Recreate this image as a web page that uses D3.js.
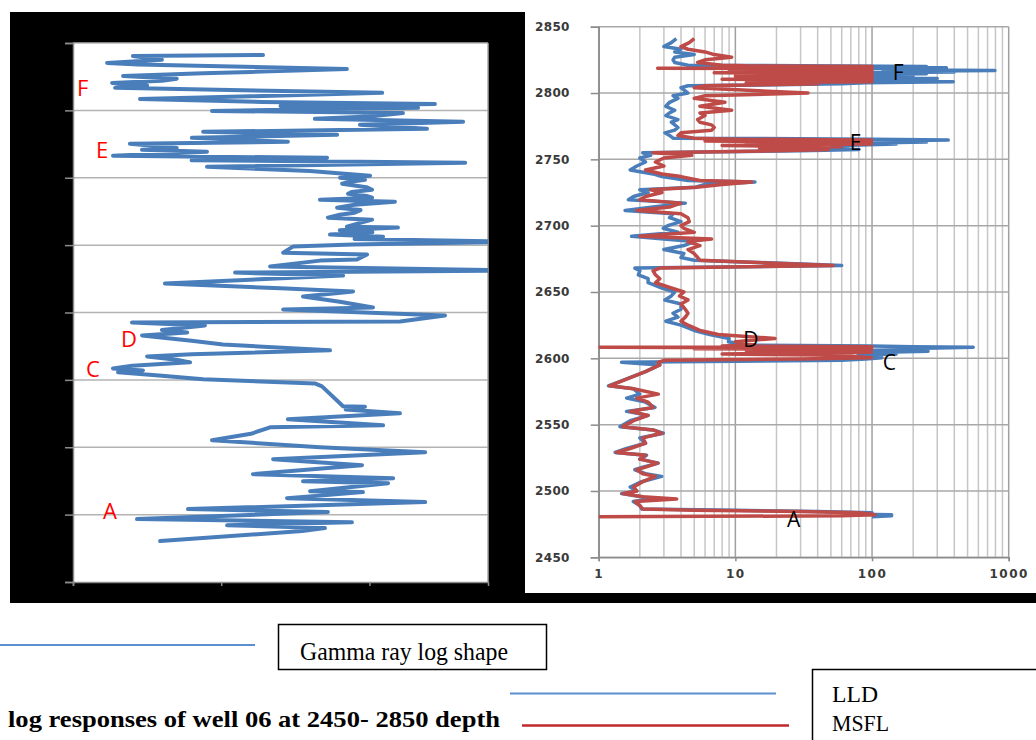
<!DOCTYPE html>
<html><head><meta charset="utf-8">
<script src="https://cdn.jsdelivr.net/npm/d3@7"></script>
<style>html,body{margin:0;padding:0;background:#fff;}svg{display:block;}</style>
</head><body>
<svg id="c" width="1036" height="740"></svg>
<script>
// ---------- DATA ----------
const depthTicks = [2450,2500,2550,2600,2650,2700,2750,2800,2850];
const resTicks = [1,10,100,1000];
const grTicks = [0,50,100];

const grDepth = [2841.1,2840.4,2837.5,2835.2,2834,2830.7,2828.5,2827.5,2825.6,2823.5,2821.9,2820.4,2818.5,2816.7,2813.0,2810.5,2808.5,2806.3,2804.8,2803.3,2801.9,2799.6,2798.1,2795.5,2793.7,2791.5,2789.3,2786.3,2784.1,2781.9,2779.6,2776.7,2775.2,2772,2770.7,2769.3,2766.3,2764.8,2763,2761.1,2758.1,2755,2751.5,
2750.0,2748.5,2746.8,2745.6,2743,2741.1,2739.5,2738.1,2736.5,2735.2,2733.7,2732.2,2730,2727.8,2726,2724,2722.5,2720.4,2718.9,2716,2713.7,2713.0,2711,2709.5,2707.8,2706.3,2704.5,2702.6,2700.4,2698.9,2694.4,2693.0,2689.3,2688.5,2684.1,2681.1,2679.6,2677.4,2671.5,2668,2665.6,2661.9,2658,2653.7,2652.2,
2647.8,2643.3,2642.6,2640.4,2637,2635.2,2633.0,2629,2626.3,2621.9,2619,2617.4,2615,2613.0,2610.5,2608.5,2607.0,2605.6,2603,2600.4,2597.4,2595.2,2580.4,2580.0,2578,2575.2,2570.7,2566.3,2564.8,2560,2555.2,2550.0,
2546.3,2541.1,2536.7,2530.0,2527.0,2524.8,2523.3,2517.4,2516.7,2512.2,2509.3,2504.1,2501.9,2496.7,2494.4,2492.2,2490,2487.8,2480.4];
const grValue = [64.1,20.2,30,11.5,22,92.4,60,43.9,16.9,35,30.0,13.2,25,14.2,104.3,60,22.6,63.8,122.1,70,116.4,46.9,111.3,100,81.6,131.6,96.8,119.4,43.9,89.1,40.1,72.5,19.2,35,23.3,45.2,13.5,85.7,40,132.3,45.2,80,100.2,
90.1,98.5,93,90.8,99,100.9,94,92.8,99,100.9,83.3,108.6,95,89.1,97,95,90,86.0,100.9,96,92.4,109.6,90,101,86.7,104.6,95,150,94.5,74.2,70.9,99.2,95.8,83.3,66.5,150,54.7,91.1,31.0,70,94.5,77.6,90,101.2,70.9,
125.5,110.3,19.9,44.5,30,38.5,23.3,40,50.6,86.7,40,25.0,35,39.5,20,13.5,23.6,15.2,30,43.9,81.6,84.0,91.1,98.5,92,110.3,72.5,104.6,66.5,60,46.9,83.3,
118.8,67.5,97.5,60.7,108.0,77.6,106.3,80.0,97.8,72.2,118.8,38.8,86.0,21.6,94.1,52.0,85,77.3,29.4];

const resDepth = [2841,2838,2835,2833,2831,2829,2827,2825,2823,2821,
2820.5,2820,2819.5,2819,2818.6,2818.2,2817.6,2817,2816.4,2815.8,2815.2,2814.6,2814,2813.4,2812.8,2812.2,2811.6,2811,2810.4,2809.8,2809.2,2808.5,2807.8,2807,2806.2,2805.5,
2804,2800,2798,2796,2793,2790,2787,2785,2783,2780,2778,2776,2774,2772,2770,2768,2766,
2765.2,2764.5,2763.8,2763,2762.2,2761.5,2760.5,2759.5,2758.5,2757.5,2756.5,
2755,2753,2751,2748,2745,2742,2739,2737,2734,2733,2731,2729,2727,2725,2722,2719.5,2717,2714,2711.5,2709,2706,2703,2700,2698,2695,2692,2690,2688,2685,2682,2679,2676,2674,2670,2668,2666,2663,2660,2657,2653,2650,2647,2644,2641,2637,2634,2631,2628,2625,2621,2618,2615,2612.5,2610,
2609.3,2608.8,2608.3,2607.8,2607.2,2606.6,2606,2605.3,2604.6,2604,2603.2,2602.5,2601.5,2600.5,2599.5,2598.5,
2597,2595,2590,2579.3,2577,2573,2570,2567,2563,2560,2557,2553,2548.5,2546,2543.5,2540,2536,2532,2529,2527,2524,2521,2518,2516,2513,2511,2507,2503,2500,2498,2495.6,2494,2492,2489,2486.5,
2485.5,2484.5,2483.5,2482.5,2482,2481.3,2480.5];
const lldValue = [3.7,3.4,3.0,4.0,3.6,5.0,3.6,3.5,3.6,4.5,
30,250,80,350,40,300,120,793,150,400,100,250,60,150,80,200,70,300,90,150,100,393,90,60,20,4.5,
4.0,4.5,3.5,3.8,3.3,3.1,3.6,3.3,3.1,3.8,3.4,3.6,3.8,3.6,3.05,3.3,3.5,
100,361,120,250,80,150,60,67,50,80,30,
2.1,2.4,2.0,2.2,1.9,1.7,2.5,2.9,4.5,13.9,6.0,5.1,2.0,2.3,1.8,1.65,4.3,2.5,1.56,3.5,3.3,4.0,3.2,2.97,3.8,1.74,3.0,5.0,4.2,3.0,4.2,4.0,5.0,60,1.84,2.0,1.95,2.3,2.3,2.9,3.6,3.4,3.05,4.0,4.0,3.5,3.8,3.1,4.0,5.0,6.5,9.0,8.9,12,
100,200,550,300,150,250,100,257,120,80,150,79,100,118,90,60,
1.47,2.8,2.2,1.18,1.8,2.0,1.6,2.2,2.58,1.6,2.3,1.7,1.43,2.5,2.97,2.0,2.2,1.6,1.32,2.24,2.0,2.73,2.1,1.84,2.2,2.89,2.06,1.7,1.9,1.47,2.06,2.4,1.79,2.0,2.06,
10,40,100,80,139,139,100];
const msflValue = [5.0,4.6,4.0,4.5,6.0,7.0,9.4,6.0,5.3,8.0,
12,100,8,100,2.7,100,9,100,15,100,7,100,15.6,100,10,100,20,100,8,100,30,100,12,40,15,6,
5,34,6,5,8.4,5.5,9.4,5.5,6.0,5.3,5.5,6.7,7.0,6.7,4.0,3.8,5.0,
10,99,6,99,12,99,8,60,15,48,20,
2.5,4.8,3.0,2.6,3.0,2.2,2.9,4.0,5.5,13.2,8.0,5.2,2.4,2.9,2.2,2.0,4.0,3.3,1.9,4.0,4.5,4.6,4.0,4.2,5.0,2.0,6.7,4.5,5.5,4.5,5.0,5.3,5.5,52,2.8,2.5,2.6,2.8,2.6,3.4,4.2,3.9,4.5,4.0,4.3,4.5,4.3,4.0,4.5,5.5,7.5,19.5,10,14,
8,100,1.0,99,5,99,12,75,99,34,8,40,70,99,30,3,
2.73,2.8,2.2,1.2,1.8,2.73,1.9,2.3,2.5,1.7,2.3,1.8,1.5,2.5,2.9,2.1,2.2,1.7,1.35,2.2,2.0,2.7,2.2,1.9,2.1,2.6,2.1,1.8,1.9,1.5,2.1,3.72,1.85,2.0,2.1,
5,30,80,100,105,60,1.0];

const grLabels = [{t:"F",d:2810.7,v:1.35},{t:"E",d:2764.7,v:7.76},{t:"D",d:2624.4,v:16.2},{t:"C",d:2602.1,v:4.39},{t:"A",d:2496.8,v:10.1}];
const resLabels = [{t:"F",d:2809.9,v:142},{t:"E",d:2757.2,v:68.8},{t:"D",d:2608.6,v:11.4},{t:"C",d:2591.3,v:120},{t:"A",d:2472.9,v:23.9}];

const legendGR = "Gamma ray log shape";
const caption = "log responses of well 06 at 2450- 2850 depth";
const legendRes = ["LLD","MSFL"];

// ---------- DRAW ----------
const svg = d3.select("#c");
const BLUE = "#4a7ebb", RED = "#be4b48";

svg.append("rect").attr("x",0).attr("y",0).attr("width",1036).attr("height",740).attr("fill","#fff");
svg.append("rect").attr("x",10).attr("y",12).attr("width",1026).attr("height",591).attr("fill","#000");
svg.append("rect").attr("x",525).attr("y",0).attr("width",511).attr("height",593).attr("fill","#fff");
const defs = svg.append("defs");

// ---- left panel (gamma ray) ----
const xL = d3.scaleLinear().domain([0,140]).range([73,488]);
const yL = d3.scaleLinear().domain([2450,2850]).range([582,43]);
svg.append("rect").attr("x",73).attr("y",43).attr("width",415).attr("height",539).attr("fill","#fff");
defs.append("clipPath").attr("id","clipL").append("rect").attr("x",73).attr("y",43).attr("width",415).attr("height",539);
const gL = svg.append("g");
gL.selectAll("line.gl").data(depthTicks.slice(1)).join("line")
  .attr("x1",73).attr("x2",488).attr("y1",d=>yL(d)).attr("y2",d=>yL(d))
  .attr("stroke","#b3b3b3").attr("stroke-width",1.5);
gL.append("line").attr("x1",488).attr("x2",488).attr("y1",43).attr("y2",582).attr("stroke","#a6a6a6").attr("stroke-width",1.5);
const axLy = gL.append("g").attr("transform","translate(73,0)")
  .call(d3.axisLeft(yL).tickValues(depthTicks).tickSize(8).tickFormat(""));
const axLx = gL.append("g").attr("transform","translate(0,582)")
  .call(d3.axisBottom(xL).tickValues(grTicks).tickSize(4).tickFormat(""));
[axLy,axLx].forEach(a=>{a.selectAll("path,line").attr("stroke","#8c8c8c").attr("stroke-width",1.5);});
const grData = grDepth.map((d,i)=>({d,v:grValue[i]}));
gL.append("path").datum(grData).attr("clip-path","url(#clipL)")
  .attr("fill","none").attr("stroke",BLUE).attr("stroke-width",4).attr("stroke-linejoin","round").attr("stroke-linecap","round")
  .attr("d",d3.line().x(p=>xL(p.v)).y(p=>yL(p.d)));
gL.selectAll("text.lab").data(grLabels).join("text")
  .attr("x",p=>xL(p.v)).attr("y",p=>yL(p.d)).text(p=>p.t)
  .attr("fill","#ff0000").attr("font-family","'Open Sans', 'Liberation Sans', sans-serif").attr("font-size",22);

// ---- right panel (resistivity) ----
const xR = d3.scaleLog().domain([1,1000]).range([598.7,1008.7]);
const yR = d3.scaleLinear().domain([2450,2850]).range([557.3,26.7]);
defs.append("clipPath").attr("id","clipR").append("rect").attr("x",598.7).attr("y",26.7).attr("width",410).attr("height",530.6);
const gR = svg.append("g");
const minor = [];
[1,10,100].forEach(b=>{for(let k=2;k<=9;k++) minor.push(b*k);});
gR.selectAll("line.vm").data(minor).join("line")
  .attr("x1",d=>xR(d)).attr("x2",d=>xR(d)).attr("y1",26.7).attr("y2",557.3)
  .attr("stroke","#c6c6c6").attr("stroke-width",1.5);
gR.selectAll("line.vM").data(resTicks).join("line")
  .attr("x1",d=>xR(d)).attr("x2",d=>xR(d)).attr("y1",26.7).attr("y2",557.3)
  .attr("stroke","#a0a0a0").attr("stroke-width",1.5);
gR.selectAll("line.h").data(depthTicks).join("line")
  .attr("x1",598.7).attr("x2",1008.7).attr("y1",d=>yR(d)).attr("y2",d=>yR(d))
  .attr("stroke","#a8a8a8").attr("stroke-width",1.5);
const axRy = gR.append("g").attr("transform","translate(598.7,0)")
  .call(d3.axisLeft(yR).tickValues(depthTicks).tickSize(8).tickPadding(21).tickFormat(d3.format("d")));
const axRx = gR.append("g").attr("transform","translate(0,557.3)")
  .call(d3.axisBottom(xR).tickValues(resTicks).tickSize(4).tickPadding(8).tickFormat(d3.format("d")));
[axRy,axRx].forEach(a=>{
  a.selectAll("path,line").attr("stroke","#8c8c8c").attr("stroke-width",1.5);
  a.selectAll("text").attr("fill","#3a3a3a").attr("font-family","'DejaVu Sans', Verdana, sans-serif").attr("font-size",12).attr("font-weight","bold");
});
axRx.selectAll("text").attr("letter-spacing",1.5);
axRy.selectAll("text").attr("letter-spacing",0.3);
const resData = resDepth.map((d,i)=>({d,l:lldValue[i],m:msflValue[i]}));
gR.append("path").datum(resData).attr("clip-path","url(#clipR)")
  .attr("fill","none").attr("stroke",BLUE).attr("stroke-width",3.5).attr("stroke-linejoin","round")
  .attr("d",d3.line().x(p=>xR(p.l)).y(p=>yR(p.d)));
gR.append("path").datum(resData).attr("clip-path","url(#clipR)")
  .attr("fill","none").attr("stroke",RED).attr("stroke-width",3.5).attr("stroke-linejoin","round")
  .attr("d",d3.line().x(p=>xR(p.m)).y(p=>yR(p.d)));
gR.selectAll("text.lab").data(resLabels).join("text")
  .attr("x",p=>xR(p.v)).attr("y",p=>yR(p.d)).text(p=>p.t)
  .attr("fill","#000").attr("font-family","'Open Sans', 'Liberation Sans', sans-serif").attr("font-size",21);

// ---- legends / caption ----
const gB = svg.append("g");
const serif = "'Liberation Serif', 'Times New Roman', serif";
gB.append("line").attr("x1",0).attr("x2",255).attr("y1",645).attr("y2",645).attr("stroke","#5b8fcf").attr("stroke-width",2);
gB.append("rect").attr("x",278.5).attr("y",624.5).attr("width",268).attr("height",45).attr("fill","#fff").attr("stroke","#000").attr("stroke-width",1.5);
gB.append("text").attr("x",300).attr("y",660).text(legendGR)
  .attr("font-family",serif).attr("font-size",25).attr("fill","#000")
  .attr("textLength",208).attr("lengthAdjust","spacingAndGlyphs");
gB.append("line").attr("x1",510).attr("x2",776).attr("y1",693.5).attr("y2",693.5).attr("stroke","#5b8fcf").attr("stroke-width",2);
gB.append("line").attr("x1",522).attr("x2",789).attr("y1",725.5).attr("y2",725.5).attr("stroke","#c0282d").attr("stroke-width",2.5);
gB.append("text").attr("x",8).attr("y",727).text(caption)
  .attr("font-family",serif).attr("font-size",24).attr("font-weight","bold").attr("fill","#000")
  .attr("textLength",492).attr("lengthAdjust","spacingAndGlyphs");
gB.append("rect").attr("x",812.5).attr("y",669.5).attr("width",240).attr("height",80).attr("fill","#fff").attr("stroke","#000").attr("stroke-width",1.5);
gB.selectAll("text.lr").data(legendRes).join("text")
  .attr("x",832).attr("y",(d,i)=>702+i*29).text(d=>d)
  .attr("font-family",serif).attr("font-size",23).attr("fill","#000")
  .attr("textLength",(d,i)=>i===0?46:57).attr("lengthAdjust","spacingAndGlyphs");
</script>
</body></html>
